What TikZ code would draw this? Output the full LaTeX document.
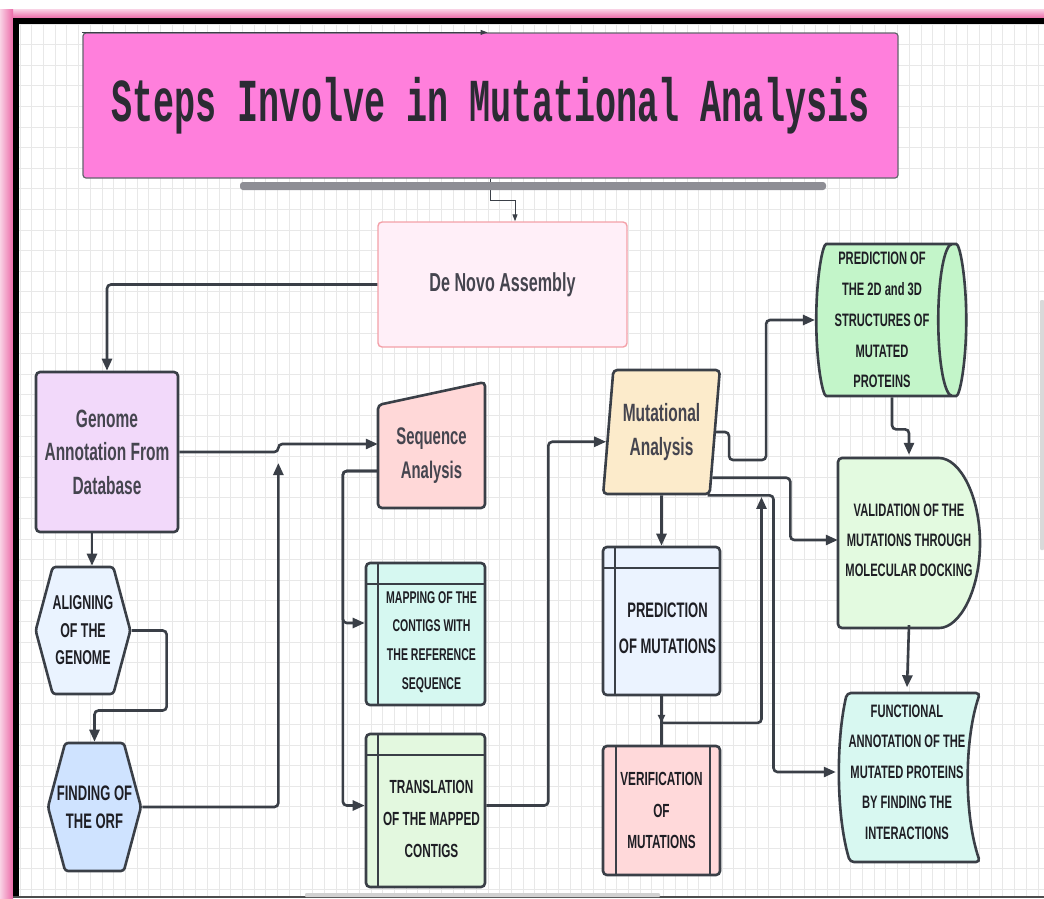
\documentclass[tikz,border=0pt]{standalone}
\usepackage{fontspec}
\usepackage{xcolor}
\usepackage{tikz}
\usetikzlibrary{
    shapes.geometric,
    shapes.symbols,
    arrows.meta,
    positioning,
    calc
}
\newfontfamily\boxfont[FakeStretch=0.62]{Liberation Sans}
\newfontfamily\titlefont[FakeStretch=0.575]{Liberation Mono}
\newcommand{\lblfont}[2]{\boxfont\bfseries\fontsize{#1}{#2}\selectfont}

\definecolor{linegray}{HTML}{3A3F47}
\definecolor{titlepink}{HTML}{FF7FDC}
\definecolor{titleink}{HTML}{2B2B33}
\definecolor{framepink}{HTML}{EC6AA8}
\definecolor{gridgray}{HTML}{E8E8E8}
\definecolor{bargray}{HTML}{8E8E95}
\definecolor{denovofill}{HTML}{FFEFF8}
\definecolor{denovoedge}{HTML}{F4A0A8}
\definecolor{genomefill}{HTML}{F2D9FA}
\definecolor{alignfill}{HTML}{EAF3FF}
\definecolor{orffill}{HTML}{CFE3FF}
\definecolor{seqfill}{HTML}{FFD8D8}
\definecolor{mapfill}{HTML}{D6F8F1}
\definecolor{transfill}{HTML}{E3F8DF}
\definecolor{mutfill}{HTML}{FCEBCB}
\definecolor{predfill}{HTML}{EBF3FF}
\definecolor{veriffill}{HTML}{FFD9DA}
\definecolor{structfill}{HTML}{C3F5C9}
\definecolor{validfill}{HTML}{E3FAE0}
\definecolor{funcfill}{HTML}{D8F8F1}
\definecolor{softink}{HTML}{45454F}
\definecolor{darkink}{HTML}{1E1E24}

\begin{document}
\begin{tikzpicture}[
    x=1pt, y=-1pt,
    box/.style={
        rectangle,
        rounded corners=4pt,
        draw=linegray,
        line width=2.6pt,
        align=center,
        inner sep=2pt,
        text=darkink
    },
    storebox/.style={
        box,
        path picture={
            \draw[linegray, line width=2.4pt]
                ([xshift=12pt]path picture bounding box.north west) -- ([xshift=12pt]path picture bounding box.south west)
                ([yshift=-21pt]path picture bounding box.north west) -- ([yshift=-21pt]path picture bounding box.north east);
        }
    },
    procbox/.style={
        box,
        path picture={
            \draw[linegray, line width=2.4pt]
                ([xshift=13pt]path picture bounding box.north west) -- ([xshift=13pt]path picture bounding box.south west)
                ([xshift=-10pt]path picture bounding box.north east) -- ([xshift=-10pt]path picture bounding box.south east);
        }
    },
    hexbox/.style={
        box,
        signal,
        signal to=west and east,
        signal pointer angle=150,
        rounded corners=3pt,
        inner sep=0pt
    },
    textonly/.style={
        rectangle,
        align=center,
        inner sep=0pt,
        text=darkink
    },
    shapeline/.style={draw=linegray, line width=2.6pt, rounded corners=4pt},
    link/.style={draw=linegray, line width=2.6pt, rounded corners=4pt},
    arrow/.style={link, -{Triangle[length=12pt, width=10pt]}},
    thinarrow/.style={draw=linegray, line width=1pt, -{Triangle[length=7pt, width=5pt]}}
]
\useasboundingbox (0,0) rectangle (1044,898);

% Screen frame and grid
\fill[white] (0,0) rectangle (1044,898);
\foreach \gx in {20,31.7,...,1044}
    \draw[gridgray, line width=0.8pt] (\gx,24) -- (\gx,896);
\foreach \gy in {24,44.6,...,896}
    \draw[gridgray, line width=0.8pt] (19,\gy) -- (1044,\gy);
\shade[top color=framepink!30, bottom color=framepink] (0,9) rectangle (1044,18);
\shade[left color=framepink!30, right color=framepink] (0,9) rectangle (13,898);
\fill[black] (13,18) rectangle (1044,24);
\fill[black] (13,18) rectangle (19,898);
\fill[black!70] (13,896) rectangle (1044,898);
\fill[black!18, rounded corners=1pt] (305,893) rectangle (660,897);
\fill[black!15, rounded corners=1pt] (1040,300) rectangle (1044,550);

% Title
\node[rectangle, rounded corners=3pt, draw=linegray!80, line width=1.2pt, fill=titlepink,
      minimum width=815pt, minimum height=145pt, text=titleink,
      font=\titlefont\bfseries\fontsize{61}{61}\selectfont] (title) at (490.5,105.5)
      {Steps Involve in Mutational Analysis};
\draw[thinarrow] (title.north west) -- ([xshift=-3pt]title.north);

% De Novo Assembly
\node[box, draw=denovoedge, line width=1.4pt, fill=denovofill, minimum width=249pt, minimum height=125pt,
      text=softink, font=\lblfont{26}{34}] (denovo) at (502.5,284.5) {De Novo Assembly};
\draw[thinarrow] (title.south) -- ++(0,22) -| ([xshift=12.5pt]denovo.north);
\fill[bargray, rounded corners=3pt] (240,182) rectangle (826,190);

% Left column
\node[box, fill=genomefill, minimum width=142pt, minimum height=160pt, text=softink,
      font=\lblfont{25}{33.5}] (genome) at (107,452) {Genome\\Annotation From\\Database};
\node[hexbox, fill=alignfill, minimum width=94pt, minimum height=127pt,
      font=\lblfont{20}{27.5}] (align) at (83,630.5) {ALIGNING\\OF THE\\GENOME};
\node[hexbox, inner xsep=-9pt, fill=orffill, minimum width=93pt, minimum height=128pt,
      font=\lblfont{21}{28}] (finding) at (94.5,807) {FINDING OF\\THE ORF};

% Sequence analysis column
\draw[shapeline, fill=seqfill] (378,405) -- (485,382) -- (485,508) -- (378,508) -- cycle;
\node[textonly, minimum width=107pt, minimum height=126pt, text=softink,
      font=\lblfont{24}{34}] (seq) at (431.5,456) {Sequence\\Analysis};
\node[storebox, fill=mapfill, minimum width=119pt, minimum height=142pt] (map) at (425.5,634) {};
\node[textonly, font=\lblfont{17}{28.6}] (maptext) at ([shift={(6,8)}]map.center)
      {MAPPING OF THE\\CONTIGS WITH\\THE REFERENCE\\SEQUENCE};
\node[storebox, fill=transfill, minimum width=119pt, minimum height=153pt] (trans) at (425.5,810.5) {};
\node[textonly, font=\lblfont{19}{32}] (transtext) at ([shift={(6,8)}]trans.center)
      {TRANSLATION\\OF THE MAPPED\\CONTIGS};

% Mutation column
\node[box, trapezium, trapezium left angle=82, trapezium right angle=98, trapezium stretches=true,
      fill=mutfill, minimum width=117pt, minimum height=124pt, text=softink,
      font=\lblfont{25}{34}] (mut) at (661.5,432) {Mutational\\Analysis};
\node[storebox, fill=predfill, minimum width=117pt, minimum height=148pt] (pm) at (661.5,621) {};
\node[textonly, font=\lblfont{21}{36}] (pmtext) at ([shift={(6,7)}]pm.center) {PREDICTION\\OF MUTATIONS};
\node[procbox, fill=veriffill, minimum width=117pt, minimum height=129pt,
      font=\lblfont{19}{31.5}] (verif) at (661.5,810.5) {VERIFICATION\\OF\\MUTATIONS};

% Right column
\node[box, cylinder, aspect=0.2, fill=structfill, minimum width=152pt, minimum height=150pt,
      font=\lblfont{18}{30.8}] (cyl) at (882,320)
      {PREDICTION OF\\THE 2D and 3D\\STRUCTURES OF\\MUTATED\\PROTEINS};
\draw[shapeline, fill=validfill] (838,628) -- (838,458) -- (935,458)
      arc[start angle=-90, end angle=90, x radius=45, y radius=85] -- cycle;
\node[textonly, minimum width=142pt, minimum height=170pt,
      font=\lblfont{18}{30}] (valid) at (909,540) {VALIDATION OF THE\\MUTATIONS THROUGH\\MOLECULAR DOCKING};
\draw[shapeline, fill=funcfill] (910,693) -- (980,693)
      .. controls (964,740) and (964,815) .. (980,862) -- (850,862)
      .. controls (836,815) and (836,740) .. (847,693) -- cycle;
\node[textonly, minimum width=142pt, minimum height=169pt,
      font=\lblfont{18}{30.5}] (func) at (907,772)
      {FUNCTIONAL\\ANNOTATION OF THE\\MUTATED PROTEINS\\BY FINDING THE\\INTERACTIONS};

% Arrows, left part
\draw[arrow] (denovo.west) -| (genome.north);
\draw[arrow] ([xshift=-15pt]genome.south) -- ([xshift=-15pt]genome.south |- align.north);
\draw[arrow] (align.east) -- ++(35,0) -- ++(0,80) -| (finding.north);
\draw[arrow] (finding.east) -| ++(136,-344);
\draw[arrow] (genome.east) -- ++(99,0) |- ([yshift=12pt]seq.west);
\draw[arrow] ([yshift=-15pt]seq.west) -- ++(-35,0) |- ([yshift=11pt]map.west);
\draw[arrow] ([yshift=-15pt]seq.west) -- ++(-35,0) |- ([yshift=5pt]trans.west);
\draw[arrow] ([yshift=5pt]trans.east) -- ++(62,0) |- (mut.190);

% Arrows, right part
\draw[arrow] (mut.south) -- (pm.north);
\coordinate (jv) at ($(pm.south)!0.55!(verif.north)$);
\draw[link] (pm.south) -- (verif.north);
\draw[link, -{Triangle[length=8pt, width=7pt]}] (pm.south) -- (jv);
\draw[arrow] (jv) -| ++(100,-226);
\draw[arrow] (mut.east) -- ++(13,0) -- ++(0,28) -- ++(37,0) |- (cyl.west);
\draw[arrow] (mut.-42) -- ++(78,0) |- (valid.west);
\draw[arrow] (mut.-54) -- ++(66,0) |- (func.west);
\draw[arrow] ([xshift=10pt]cyl.south) -- ++(0,32) -| (valid.north);
\draw[arrow] (valid.south) -- (func.north);

\end{tikzpicture}
\end{document}
